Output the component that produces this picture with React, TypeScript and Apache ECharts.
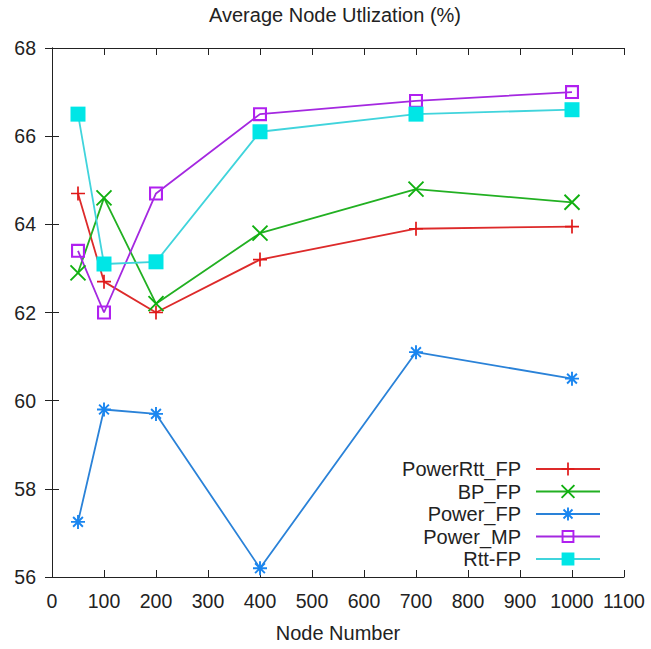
import React, { useEffect, useRef } from "react";
import * as echarts from "echarts";

const nodeNumbers = [50, 100, 200, 400, 700, 1000];
const powerRttFP = [64.7, 62.7, 62.0, 63.2, 63.9, 63.95];
const bpFP = [62.9, 64.6, 62.2, 63.8, 64.8, 64.5];
const powerFP = [57.25, 59.8, 59.7, 56.2, 61.1, 60.5];
const powerMP = [63.4, 62.0, 64.7, 66.5, 66.8, 67.0];
const rttFP = [66.5, 63.1, 63.15, 66.1, 66.5, 66.6];

const seriesNames = ["PowerRtt_FP", "BP_FP", "Power_FP", "Power_MP", "Rtt-FP"];
const titleText = "Average Node Utlization (%)";
const xName = "Node Number";

const FONT = "'Liberation Sans', Arial, sans-serif";

const SYM_PLUS = "path://M0,5L10,5M5,0L5,10";
const SYM_X = "path://M0,0L10,10M10,0L0,10";
const SYM_STAR = "path://M0,5L10,5M5,0L5,10M1.5,1.5L8.5,8.5M8.5,1.5L1.5,8.5";
const SYM_BOX = "path://M0,0H10V10H0Z M1.5,1.5V8.5H8.5V1.5Z";

const styles = [
  { line: "#dd2a2a", mark: "#e01818", symbol: SYM_PLUS, size: 14, stroke: 1.7 },
  { line: "#22b022", mark: "#10b010", symbol: SYM_X, size: 15, stroke: 1.9 },
  { line: "#2a82d8", mark: "#1a86f0", symbol: SYM_STAR, size: 14, stroke: 1.9 },
  { line: "#a428e0", mark: "#b020f0", symbol: SYM_BOX, size: 14, stroke: 0 },
  { line: "#40d4dc", mark: "#00e6e6", symbol: "rect", size: 15, stroke: 0 },
];

export default function App() {
  const ref = useRef<HTMLDivElement>(null);
  useEffect(() => {
    if (!ref.current) return;
    const chart = echarts.init(ref.current, undefined, { renderer: "svg" });
    const values = [powerRttFP, bpFP, powerFP, powerMP, rttFP];
    const series = values.map((vals, i) => ({
      name: seriesNames[i],
      type: "line",
      data: nodeNumbers.map((x, j) => [x, vals[j]]),
      symbol: styles[i].symbol,
      symbolSize: styles[i].size,
      showAllSymbol: true,
      clip: false,
      lineStyle: { color: styles[i].line, width: 1.8 },
      itemStyle: {
        color: styles[i].mark,
        borderColor: styles[i].mark,
        borderWidth: styles[i].stroke,
      },
      emphasis: { disabled: true },
    }));
    const axisCommon = {
      axisLine: { show: true, lineStyle: { color: "#222", width: 1 } },
      axisTick: { show: true, inside: true, length: 7, lineStyle: { color: "#222" } },
      splitLine: { show: false },
    };
    chart.setOption({
      animation: false,
      backgroundColor: "#ffffff",
      grid: { left: 52, right: 27, top: 48, bottom: 72, containLabel: false },
      graphic: [
        {
          type: "text",
          x: 335,
          y: 15,
          style: {
            text: titleText,
            fontFamily: FONT,
            fontSize: 20,
            fill: "#222",
            textAlign: "center",
            textVerticalAlign: "middle",
          },
        },
      ],
      legend: {
        orient: "vertical",
        align: "right",
        right: 45,
        top: 454,
        itemWidth: 64,
        itemHeight: 16,
        itemGap: 2.5,
        selectedMode: false,
        textStyle: { fontFamily: FONT, fontSize: 20, color: "#222", padding: [0, 10, 0, 0] },
        data: seriesNames.map((n, i) => ({
          name: n,
          itemStyle: { borderWidth: styles[i].stroke, borderColor: styles[i].mark, color: styles[i].mark },
        })),
      },
      xAxis: [
        {
          type: "value",
          min: 0,
          max: 1100,
          interval: 100,
          position: "bottom",
          ...axisCommon,
          axisLabel: {
            fontFamily: FONT,
            fontSize: 19.5,
            color: "#222",
            margin: 14,
            formatter: (v: number) => String(v),
          },
          name: xName,
          nameLocation: "middle",
          nameGap: 46,
          nameTextStyle: { fontFamily: FONT, fontSize: 20, color: "#222" },
        },
        {
          type: "value",
          min: 0,
          max: 1100,
          interval: 100,
          position: "top",
          ...axisCommon,
          axisLabel: { show: false },
        },
      ],
      yAxis: [
        {
          type: "value",
          min: 56,
          max: 68,
          interval: 2,
          position: "left",
          ...axisCommon,
          axisLabel: {
            fontFamily: FONT,
            fontSize: 19.5,
            color: "#222",
            margin: 16,
            formatter: (v: number) => String(v),
          },
        },
        {
          type: "value",
          min: 56,
          max: 68,
          interval: 2,
          position: "right",
          ...axisCommon,
          axisLabel: { show: false },
        },
      ],
      series,
    });
    return () => chart.dispose();
  }, []);
  return (
    <div
      ref={ref}
      style={{ position: "fixed", left: 0, top: 0, width: 651, height: 649, background: "#fff" }}
    />
  );
}
